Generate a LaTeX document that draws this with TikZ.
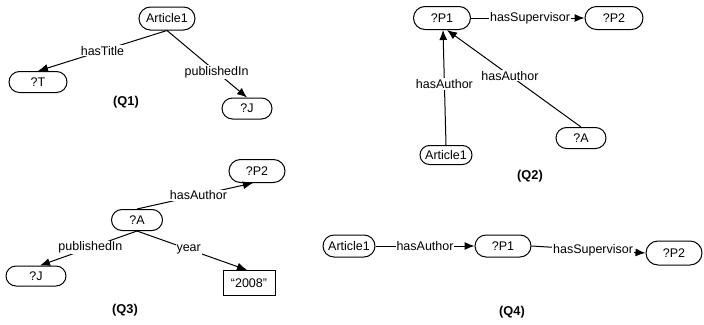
\documentclass[tikz,border=0pt]{standalone}
\usepackage{fontspec}
\setmainfont{Liberation Sans}
\usepackage{tikz}
\usetikzlibrary{arrows.meta,shapes.misc}

\begin{document}
\begin{tikzpicture}[
  x=1pt, y=-1pt,
  every node/.style={font=\fontsize{12.5}{14}\selectfont},
  var/.style={rounded rectangle, draw, line width=1pt, inner xsep=2pt, inner ysep=1pt,
              minimum width=60pt, minimum height=22pt},
  lit/.style={rectangle, draw, line width=1pt, inner sep=2pt,
              minimum width=52pt, minimum height=25pt},
  lbl/.style={fill=white, inner sep=1pt},
  qcaption/.style={font=\fontsize{12.8}{14}\selectfont\bfseries},
  arr/.style={-{Latex[length=10pt,width=8pt]}, line width=1pt},
]
\useasboundingbox (0,0) rectangle (704,324);

% (Q1)
\node[var, minimum height=23pt] (qa-art) at (167,18.5) {Article1};
\node[var, minimum width=62pt, minimum height=21pt] (qa-t) at (38,82) {?T};
\node[var, minimum width=54pt, minimum height=21pt] (qa-j) at (247,108.5) {?J};
\draw[arr] (qa-art.south) -- node[lbl, pos=0.5] {hasTitle} (qa-t.north);
\draw[arr] (qa-art.south) -- node[lbl, pos=0.62] {publishedIn} (qa-j.north);
\node[qcaption] (qa-cap) at (126,102) {(Q1)};

% (Q2)
\node[var, minimum width=61pt, minimum height=23pt] (qb-p1) at (442,18) {?P1};
\node[var, minimum width=62pt, minimum height=23pt] (qb-p2) at (614,18) {?P2};
\node[var, minimum width=56pt, minimum height=19pt] (qb-art) at (446,155) {Article1};
\node[var, minimum width=54pt, minimum height=21pt] (qb-a) at (581,138) {?A};
\draw[arr] (qb-p1.east) -- node[lbl, pos=0.52] {hasSupervisor} (qb-p2.west);
\draw[arr] (qb-art.north) -- node[lbl, pos=0.53] {hasAuthor} ([xshift=1pt]qb-p1.south);
\draw[arr] (qb-a.north) -- node[lbl, pos=0.53] {hasAuthor} ([xshift=5pt]qb-p1.south);
\node[qcaption] (qb-cap) at (530,176) {(Q2)};

% (Q3)
\node[var, minimum height=23pt] (qc-p2) at (257,171) {?P2};
\node[var, minimum width=55pt, minimum height=21pt] (qc-a) at (137,220) {?A};
\node[var, minimum width=64pt, minimum height=20pt] (qc-j) at (36,276) {?J};
\node[lit] (qc-year) at (249,283) {“2008”};
\draw[arr] (qc-a.north) -- node[lbl, pos=0.53] {hasAuthor} ([xshift=-4pt]qc-p2.south);
\draw[arr] (qc-a.south) -- node[lbl, pos=0.48] {publishedIn} ([xshift=4pt]qc-j.north);
\draw[arr] (qc-a.south) -- node[lbl, pos=0.47] {year} ([xshift=-2pt]qc-year.north);
\node[qcaption] (qc-cap) at (125,310) {(Q3)};

% (Q4)
\node[var, minimum width=56pt] (qd-art) at (349,246) {Article1};
\node[var] (qd-p1) at (503,246) {?P1};
\node[var, minimum height=24pt] (qd-p2) at (674,253) {?P2};
\draw[arr] (qd-art.east) -- node[lbl, pos=0.5] {hasAuthor} (qd-p1.west);
\draw[arr] (qd-p1.east) -- node[lbl, pos=0.54] {hasSupervisor} (qd-p2.west);
\node[qcaption] (qd-cap) at (512,312) {(Q4)};
\end{tikzpicture}
\end{document}
